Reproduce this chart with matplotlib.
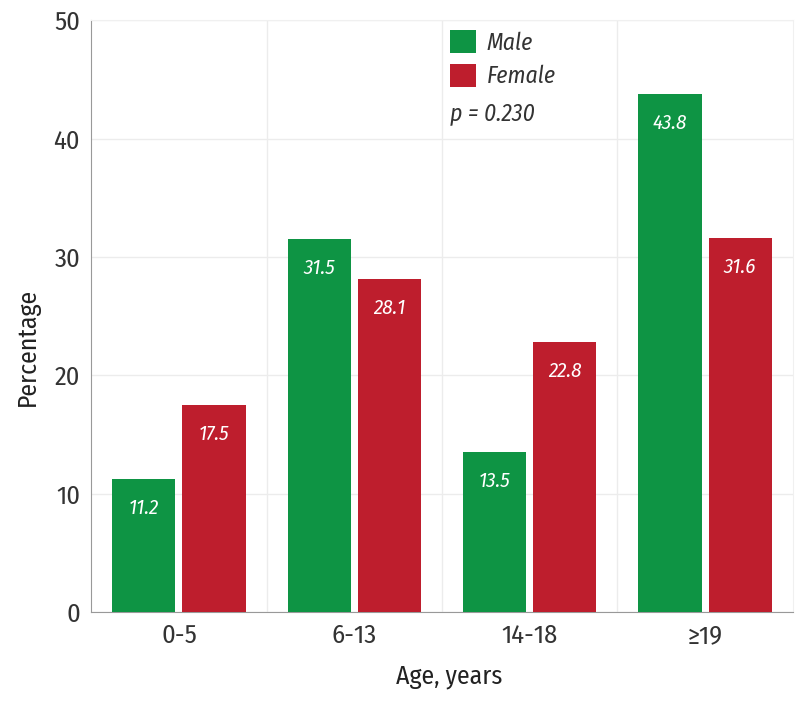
import numpy as np
import matplotlib
matplotlib.use('Agg')
import matplotlib.pyplot as plt
from matplotlib.patches import Patch

plt.rcParams['font.family'] = ['Fira Sans Condensed', 'DejaVu Sans']
plt.rcParams['font.weight'] = 'normal'

categories = ['0-5', '6-13', '14-18', '\u226519']
male = [11.2, 31.5, 13.5, 43.8]
female = [17.5, 28.1, 22.8, 31.6]
series_names = ['Male', 'Female']
p_text = 'p = 0.230'

green = '#0e9444'
red = '#be1e2d'
txt = '#333333'

fig = plt.figure(figsize=(8, 7.01), dpi=100)
ax = fig.add_axes([0.114, 0.127, 0.877, 0.844])

x = np.arange(len(categories))
w = 0.36
b1 = ax.bar(x - 0.2, male, w, color=green, zorder=3)
b2 = ax.bar(x + 0.2, female, w, color=red, zorder=3)

# value labels inside the top of each bar
for bars, vals in [(b1, male), (b2, female)]:
    for rect, v in zip(bars, vals):
        ax.annotate('{:.1f}'.format(v),
                    (rect.get_x() + rect.get_width() / 2, v),
                    xytext=(0, -21), textcoords='offset points',
                    ha='center', va='center', color='white',
                    fontsize=15, style='italic', zorder=4)

ax.set_xlim(-0.5, 3.5)
ax.set_ylim(0, 50)
ax.set_xticks(x)
ax.set_xticklabels(categories)
ax.set_yticks(np.arange(0, 51, 10))
ax.set_xticks([0.5, 1.5, 2.5], minor=True)
ax.tick_params(axis='both', which='both', length=0, labelsize=19,
               colors=txt, pad=8)
ax.grid(True, axis='y', color='#ececec', lw=1, zorder=0)
ax.grid(True, axis='x', which='minor', color='#ececec', lw=1, zorder=0)

for s in ['top', 'right']:
    ax.spines[s].set_color('#f0f0f0')
for s in ['left', 'bottom']:
    ax.spines[s].set_color('#999999')

ax.set_xlabel('Age, years', fontsize=18.5, color='#222222', fontweight='normal')
ax.set_ylabel('Percentage', fontsize=18.5, color='#222222', fontweight='normal')
ax.xaxis.set_label_coords(0.51, -0.088)
ax.yaxis.set_label_coords(-0.091, 0.448)
ax.yaxis.label.set_va('center')

handles = [Patch(facecolor=green), Patch(facecolor=red)]
leg = ax.legend(handles, series_names, loc='upper left',
                bbox_to_anchor=(0.511, 0.983), frameon=False,
                borderaxespad=0, borderpad=0,
                handlelength=1.1, handleheight=1.1, handletextpad=0.45,
                labelspacing=0.4, prop={'size': 17, 'style': 'italic'})
for t in leg.get_texts():
    t.set_color(txt)
ax.text(0.511, 0.843, p_text, transform=ax.transAxes, fontsize=17,
        style='italic', color=txt, va='center', ha='left')

fig.savefig('out.png', dpi=100)
